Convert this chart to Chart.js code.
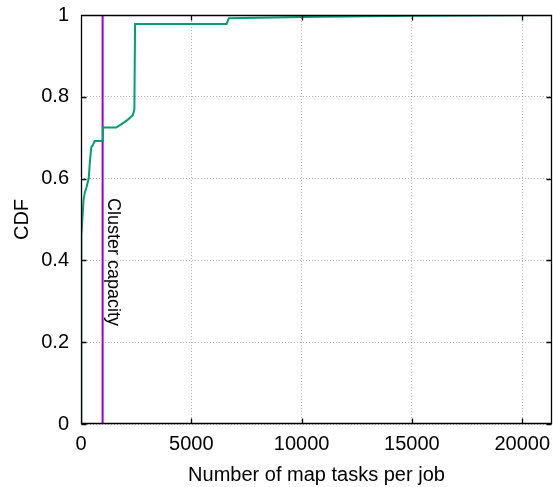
<!DOCTYPE html>
<html>
<head>
<meta charset="utf-8">
<script src="https://cdn.jsdelivr.net/npm/chart.js@4/dist/chart.umd.min.js"></script>
<style>
  body { margin: 0; background: #fff; }
  canvas { display: block; }
</style>
</head>
<body>
<canvas id="cdfChart" width="553" height="487"></canvas>
<script>
// data
var mapTasks = [0, 5, 15, 30, 60, 120, 170, 240, 350, 400, 470, 520, 620, 980, 990, 1600, 1800, 2100, 2350, 2420, 2450, 6600, 6700, 10000, 15000, 21350];
var cdf = [0, 0.25, 0.4, 0.46, 0.5, 0.55, 0.565, 0.577, 0.6, 0.64, 0.678, 0.68, 0.692, 0.692, 0.725, 0.725, 0.732, 0.743, 0.755, 0.77, 0.978, 0.978, 0.992, 0.995, 0.998, 1.0];
var clusterCapacity = 980;
var xMax = 21350;
var xTicks = [0, 5000, 10000, 15000, 20000];
var yTicks = [0, 0.2, 0.4, 0.6, 0.8, 1];

document.addEventListener('DOMContentLoaded', function () {
    Chart.defaults.font.family = '"Liberation Sans", Arial, sans-serif';
    Chart.defaults.font.size = 20;
    Chart.defaults.color = '#000';

    var ctx = document.getElementById('cdfChart').getContext('2d');

    var points = mapTasks.map(function (x, i) { return { x: x, y: cdf[i] }; });

    // gnuplot style frame, inward ticks on all sides and the rotated label
    var framePlugin = {
        id: 'frame',
        afterDraw: function (chart) {
            var c = chart.ctx;
            var xs = chart.scales.x, ys = chart.scales.y;
            var l = Math.round(xs.getPixelForValue(0)) + 0.5;
            var r = Math.round(xs.getPixelForValue(xMax)) - 0.5;
            var t = Math.round(ys.getPixelForValue(1)) + 0.5;
            var b = Math.round(ys.getPixelForValue(0)) - 0.5;
            c.save();
            c.setLineDash([]);
            c.strokeStyle = '#000';
            c.lineWidth = 1.3;
            c.beginPath();
            c.moveTo(l, t); c.lineTo(r, t); c.lineTo(r, b); c.lineTo(l, b); c.closePath();
            xTicks.forEach(function (v) {
                var px = Math.round(xs.getPixelForValue(v)) + 0.5;
                c.moveTo(px, b); c.lineTo(px, b - 5);
                c.moveTo(px, t); c.lineTo(px, t + 5);
            });
            yTicks.forEach(function (v) {
                var py = Math.round(ys.getPixelForValue(v)) + 0.5;
                c.moveTo(l, py); c.lineTo(l + 5, py);
                c.moveTo(r, py); c.lineTo(r - 5, py);
            });
            c.stroke();

            // "Cluster capacity" reads top to bottom next to the line
            c.translate(xs.getPixelForValue(clusterCapacity) + 5, 198);
            c.rotate(Math.PI / 2);
            c.fillStyle = '#000';
            c.font = '18px "Liberation Sans", Arial, sans-serif';
            c.textAlign = 'left';
            c.textBaseline = 'alphabetic';
            c.fillText('Cluster capacity', 0, 0);
            c.restore();
        }
    };

    function noPadding(scale) {
        scale.paddingLeft = 0;
        scale.paddingRight = 0;
        scale.paddingTop = 0;
        scale.paddingBottom = 0;
    }

    new Chart(ctx, {
        type: 'line',
        data: {
            datasets: [{
                label: 'CDF',
                data: points,
                borderColor: '#009e73',
                borderWidth: 2,
                pointRadius: 0,
                tension: 0,
                fill: false
            }, {
                label: 'Cluster capacity',
                data: [{ x: clusterCapacity, y: 0 }, { x: clusterCapacity, y: 1 }],
                borderColor: '#9400d3',
                borderWidth: 2,
                pointRadius: 0,
                fill: false
            }]
        },
        plugins: [framePlugin],
        options: {
            responsive: false,
            animation: false,
            layout: { padding: { top: 15, right: 1, left: 0, bottom: 0 } },
            plugins: {
                legend: { display: false },
                tooltip: { enabled: false }
            },
            scales: {
                x: {
                    type: 'linear',
                    min: 0,
                    max: xMax,
                    afterBuildTicks: function (scale) {
                        scale.ticks = xTicks.map(function (v) { return { value: v }; });
                    },
                    afterFit: function (scale) { scale.height = 63; noPadding(scale); },
                    grid: { color: 'rgba(0,0,0,0.3)', drawTicks: false },
                    border: { display: false, dash: [1, 2] },
                    ticks: {
                        padding: 8,
                        maxRotation: 0,
                        autoSkip: false,
                        callback: function (v) { return String(v); }
                    },
                    title: {
                        display: true,
                        text: 'Number of map tasks per job',
                        padding: { top: 4, bottom: 0 }
                    }
                },
                y: {
                    min: 0,
                    max: 1,
                    afterBuildTicks: function (scale) {
                        scale.ticks = yTicks.map(function (v) { return { value: v }; });
                    },
                    afterFit: function (scale) { scale.width = 81; noPadding(scale); },
                    grid: { color: 'rgba(0,0,0,0.3)', drawTicks: false },
                    border: { display: false, dash: [1, 2] },
                    ticks: {
                        padding: 12,
                        callback: function (v) { return String(Math.round(v * 10) / 10); }
                    },
                    title: {
                        display: true,
                        text: 'CDF',
                        padding: { top: 10, bottom: 0 }
                    }
                }
            }
        }
    });
});
</script>
</body>
</html>
